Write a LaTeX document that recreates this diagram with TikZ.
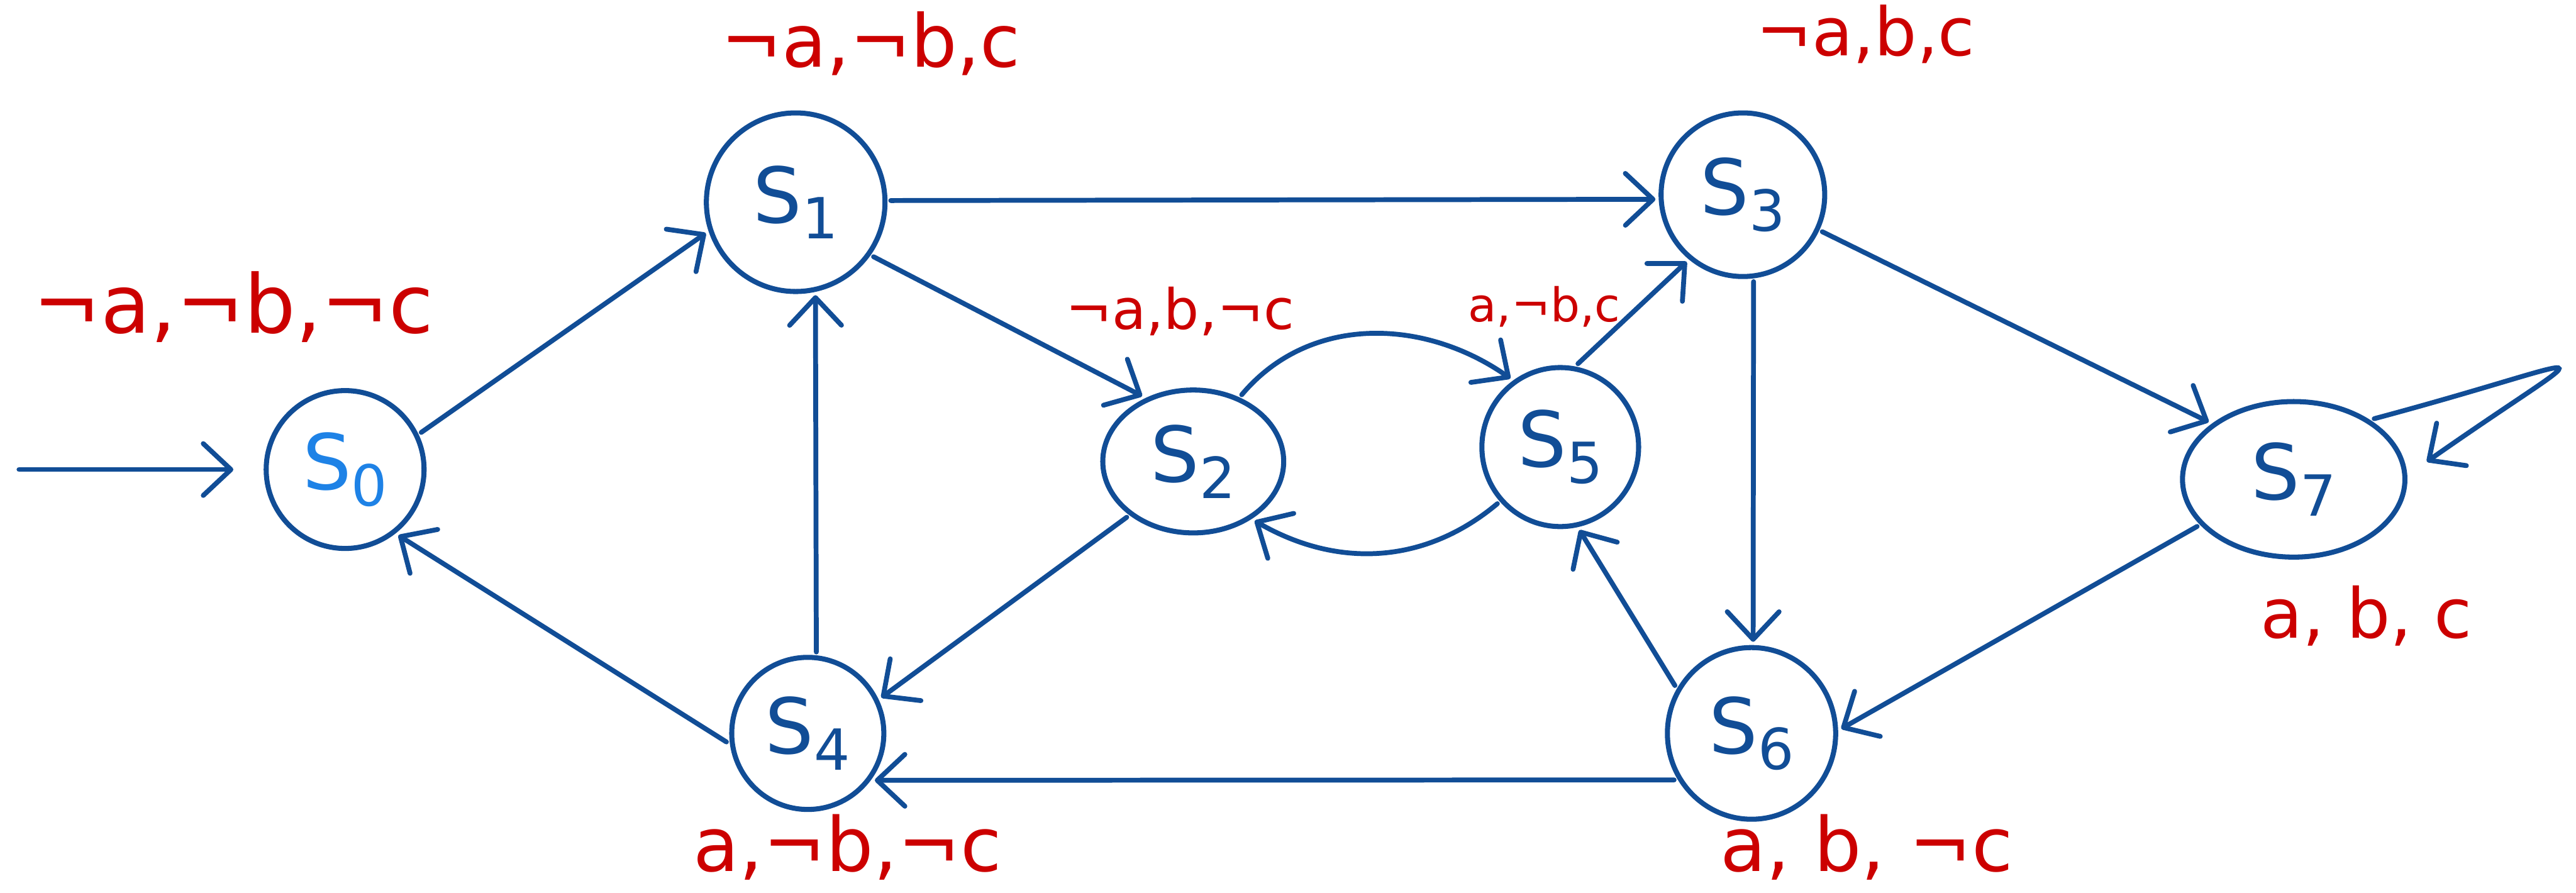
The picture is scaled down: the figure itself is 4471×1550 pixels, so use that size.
\documentclass[tikz,border=0pt]{standalone}
\usepackage{fontspec}
\setmainfont{DejaVu Sans}
\usetikzlibrary{arrows.meta,shapes.geometric}

\definecolor{ink}{RGB}{17,77,150}
\definecolor{inklight}{RGB}{30,130,230}
\definecolor{prop}{RGB}{204,0,0}

% state name: large S with a lowered index
\newcommand{\stname}[1]{\fontsize{38}{38}\selectfont S\raisebox{-8pt}{\fontsize{28}{28}\selectfont #1}}
\newcommand{\lblsize}[1]{\fontsize{#1}{#1}\selectfont}

\begin{document}
\begin{tikzpicture}[x=0.1mm,y=0.1mm,
  state/.style={ellipse, draw=ink, line width=2.5pt, inner sep=0pt, outer sep=1mm, text=ink},
  arr/.style={draw=ink, line width=2.4pt, line cap=round,
    -{Straight Barb[length=4.8mm,width=9mm,round]}},
  lbl/.style={text=prop, anchor=base, inner sep=0pt}
]
\useasboundingbox (0,0) rectangle (4471,1550);

% states
\node[state, minimum width=27.4mm, minimum height=27.4mm, text=inklight] (s0) at (599,735) {\stname{0}};
\node[state, minimum width=31mm, minimum height=31mm] (s1) at (1381,1199) {\stname{1}};
\node[state, minimum width=31.4mm, minimum height=24.8mm] (s2) at (2071,749) {\stname{2}};
\node[state, minimum width=28.4mm, minimum height=28.4mm] (s3) at (3025,1212) {\stname{3}};
\node[state, minimum width=26.4mm, minimum height=26.4mm] (s4) at (1402,277) {\stname{4}};
\node[state, minimum width=27.2mm, minimum height=27.6mm] (s5) at (2708,774) {\stname{5}};
\node[state, minimum width=29.2mm, minimum height=29.8mm] (s6) at (3040,277) {\stname{6}};
\node[state, minimum width=38.6mm, minimum height=27mm] (s7) at (3981,718) {\stname{7}};

% valuations
\node[lbl, font=\lblsize{40}] (l0) at (405,972) {¬a,¬b,¬c};
\node[lbl, font=\lblsize{36}] (l1) at (1511,1434) {¬a,¬b,c};
\node[lbl, font=\lblsize{27.5}] (l2) at (2048,979) {¬a,b,¬c};
\node[lbl, font=\lblsize{33}] (l3) at (3238,1453) {¬a,b,c};
\node[lbl, font=\lblsize{37}] (l4) at (1471,38) {a,¬b,¬c};
\node[lbl, font=\lblsize{23}] (l5) at (2680,992) {a,¬b,c};
\node[lbl, font=\lblsize{37}] (l6) at (3240,38) {a, b, ¬c};
\node[lbl, font=\lblsize{34}] (l7) at (4107,443) {a, b, c};

% initial state marker
\coordinate (init) at (33,735);
\draw[arr, shorten >=4.7mm] (init) -- (s0.180);

% transitions
\draw[arr] (s0.26) -- (s1.199);
\draw[arr] (s1.1) -- (s3.183);
\draw[arr] (s1.-35) -- (s2.128);
\draw[arr] (s2.54) to[out=50,in=145] (s5.126);
\draw[arr] (s5.222) to[out=220,in=-30] (s2.316);
\draw[arr] (s5.78) -- (s3.230);
\draw[arr] (s3.-25) -- (s7.146);
\draw[arr] (s3.-83) -- (s6.89);
\draw[arr, shorten >=3.5mm] (s7.37) .. controls +(15:424) and +(35:424) .. (s7.3);
\draw[arr] (s7.206) -- (s6.3);
\draw[arr] (s6.148) -- (s5.-77);
\draw[arr] (s6.211) -- (s4.-35);
\draw[arr] (s2.220) -- (s4.26);
\draw[arr] (s4.84) -- (s1.-78);
\draw[arr] (s4.186) -- (s0.-51);
\end{tikzpicture}
\end{document}
